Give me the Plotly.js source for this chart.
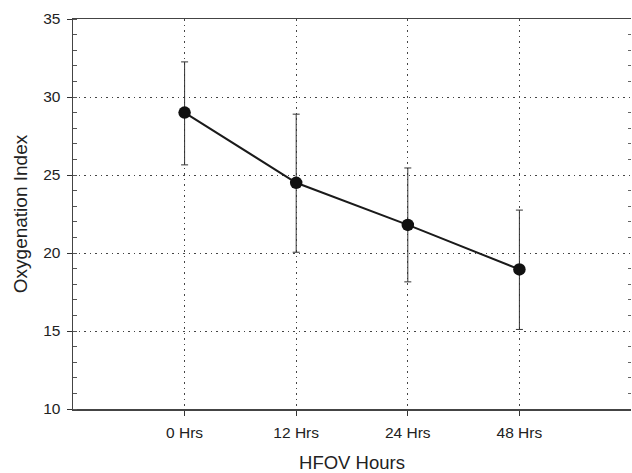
<!DOCTYPE html>
<html>
<head>
<meta charset="utf-8">
<script src="https://cdn.plot.ly/plotly-3.0.1.min.js"></script>
<style>
  html, body { margin: 0; padding: 0; background: #fff; }
  #chart { width: 632px; height: 473px; }
</style>
</head>
<body>
<div id="chart"></div>
<script>
// Data
const categories = ["0 Hrs", "12 Hrs", "24 Hrs", "48 Hrs"];
const oxygenationIndex = [29.0, 24.5, 21.8, 18.95];
const errorPlus = [3.25, 4.4, 3.65, 3.8];
const errorMinus = [3.35, 4.45, 3.65, 3.85];

const xPos = categories.map((c, i) => i);

const traces = [
  {
    type: "scatter",
    mode: "lines+markers",
    x: xPos,
    y: oxygenationIndex,
    line: { color: "#1a1a1a", width: 2 },
    marker: { color: "#111", size: 12.5, symbol: "circle" },
    error_y: {
      type: "data",
      symmetric: false,
      array: errorPlus,
      arrayminus: errorMinus,
      color: "#333",
      thickness: 1,
      width: 3.5
    },
    showlegend: false,
    hoverinfo: "skip"
  },
  {
    type: "scatter",
    mode: "markers",
    x: [],
    y: [],
    yaxis: "y2",
    showlegend: false,
    hoverinfo: "skip"
  }
];

const font = "Liberation Sans, Arial, sans-serif";
const gridDash = "1.5px,4px";

const layout = {
  width: 632,
  height: 473,
  margin: { l: 73, r: 1, t: 19, b: 64 },
  paper_bgcolor: "#fff",
  plot_bgcolor: "#fff",
  font: { family: font, color: "#222", size: 14 },
  showlegend: false,
  xaxis: {
    range: [-1, 4],
    tickvals: xPos,
    ticktext: categories,
    ticks: "outside",
    ticklen: 5,
    tickcolor: "#333",
    ticklabelstandoff: 4,
    tickfont: { size: 15.5, family: font, color: "#222" },
    showline: true,
    linecolor: "#444",
    linewidth: 1.5,
    mirror: true,
    showgrid: true,
    gridcolor: "#444",
    griddash: gridDash,
    gridwidth: 1,
    zeroline: false,
    title: { text: "HFOV Hours", font: { size: 18.5, family: font, color: "#222" }, standoff: 18 },
    automargin: false
  },
  yaxis: {
    range: [10, 35],
    dtick: 5,
    tick0: 10,
    ticks: "outside",
    ticklen: 5,
    tickcolor: "#333",
    ticklabelstandoff: 3,
    tickfont: { size: 15.5, family: font, color: "#222" },
    showline: true,
    linecolor: "#444",
    linewidth: 1.5,
    showgrid: true,
    gridcolor: "#444",
    griddash: gridDash,
    gridwidth: 1,
    zeroline: false,
    minor: { dtick: 1, tick0: 10, ticks: "inside", ticklen: 4, tickcolor: "#555", showgrid: false },
    title: { text: "Oxygenation Index", font: { size: 19, family: font, color: "#222" }, standoff: 10 },
    automargin: false
  },
  yaxis2: {
    overlaying: "y",
    side: "right",
    range: [10, 35],
    dtick: 5,
    ticks: "",
    showticklabels: false,
    showline: false,
    showgrid: false,
    zeroline: false,
    minor: { dtick: 1, tick0: 10, ticks: "inside", ticklen: 3, tickcolor: "#666", showgrid: false }
  }
};

Plotly.newPlot("chart", traces, layout, { staticPlot: true, displayModeBar: false });
</script>
</body>
</html>
